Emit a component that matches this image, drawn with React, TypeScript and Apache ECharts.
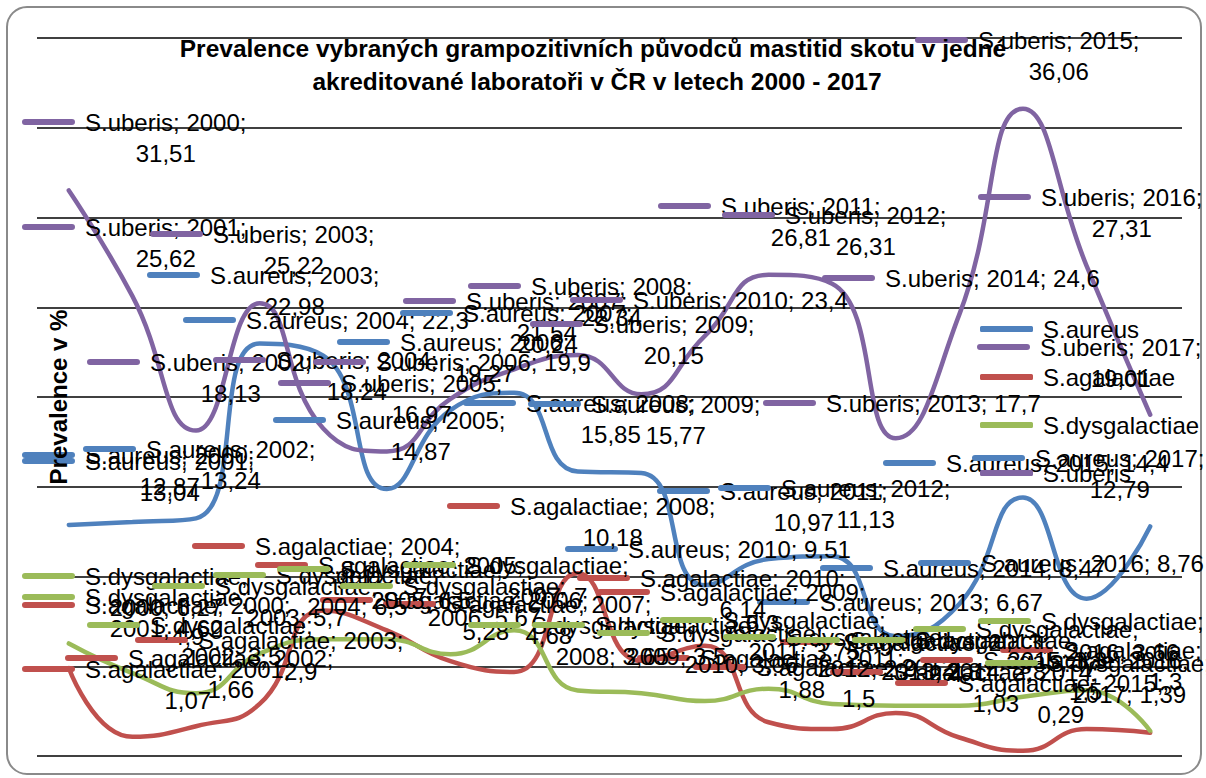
import React, { useEffect, useRef } from 'react';
import * as echarts from 'echarts';

// ---------- data ----------
const years = ['2000', '2001', '2002', '2003', '2004', '2005', '2006', '2007', '2008', '2009', '2010', '2011', '2012', '2013', '2014', '2015', '2016', '2017'];
const seriesNames = ['S.aureus', 'S.uberis', 'S.agalactiae', 'S.dysgalactiae'];
const legendOrder = ['S.aureus', 'S.agalactiae', 'S.dysgalactiae', 'S.uberis'];

const aureus = [12.87, 13.04, 13.24, 22.98, 22.3, 14.87, 19.27, 20.24, 15.85, 15.77, 9.51, 10.97, 11.13, 6.67, 8.47, 14.4, 8.76, 12.79];
const uberis = [31.51, 25.62, 18.13, 25.22, 18.24, 16.97, 19.9, 21.54, 22.34, 20.15, 23.4, 26.81, 26.31, 17.7, 24.6, 36.06, 27.31, 19.01];
const agalactiae = [4.9, 1.07, 1.66, 2.9, 8.1, 7.0, 5.28, 4.68, 10.18, 5.3, 6.14, 1.88, 1.5, 2.4, 1.03, 0.29, 1.5, 1.3];
const dysgalactiae = [6.27, 4.62, 3.5, 5.7, 6.5, 6.5, 5.67, 7.0, 3.65, 3.5, 3.06, 3.75, 2.9, 2.8, 2.8, 3.3, 3.66, 1.39];

const yMin = 0;
const yMax = 40;
const yInterval = 5;

const titleLines = ['Prevalence vybraných grampozitivních původců mastitid skotu v jedné', 'akreditované laboratoři v ČR v letech 2000 - 2017'];
const yAxisTitle = 'Prevalence v %';

// ---------- layout (label placement: [key left x, first text line centre y] in page px) ----------
const aureusLabelAt = [[22, 455], [22, 461], [83, 449], [147, 275], [183, 320], [273, 420], [337, 342], [400, 313], [463, 403], [528, 404], [565, 549], [657, 491], [718, 488], [757, 602], [820, 568], [883, 463], [918, 563], [972, 458]];
const uberisLabelAt = [[22, 122], [22, 227], [87, 362], [150, 234], [213, 360], [278, 383], [313, 362], [403, 301], [468, 286], [530, 324], [570, 300], [658, 206], [722, 215], [763, 403], [822, 278], [915, 40], [978, 197], [977, 347]];
const agalactiaeLabelAt = [[22, 605], [22, 669], [65, 658], [135, 640], [192, 546], [255, 565], [320, 600], [383, 604], [447, 506], [597, 592], [577, 578], [637, 658], [693, 667], [780, 642], [830, 672], [895, 683], [920, 660], [1000, 650]];
const dysgalactiaeLabelAt = [[22, 576], [22, 597], [87, 625], [152, 586], [213, 575], [277, 569], [340, 586], [403, 565], [468, 625], [532, 625], [597, 633], [660, 620], [723, 637], [787, 640], [852, 640], [913, 629], [978, 621], [985, 663]];

const COLORS: Record<string, string> = {
  'S.aureus': '#4F81BD',
  'S.uberis': '#8064A2',
  'S.agalactiae': '#C0504D',
  'S.dysgalactiae': '#9BBB59',
};

const FONT = '"Liberation Sans", Arial, sans-serif';
const FS = 24;
const LH = 31;
const KEY_W = 53;
const GAP = 10;

const fmt = (v: number) => String(v).replace('.', ',');

function labelLines(name: string, year: string, v: number): string[] {
  const full = `${name}; ${year}; ${fmt(v)}`;
  if (full.length <= 20) return [full];
  const a = `${name}; ${year};`;
  if (a.length <= 19) return [a, fmt(v)];
  return [`${name};`, `${year}; ${fmt(v)}`];
}

export default function App() {
  const ref = useRef<HTMLDivElement>(null);

  useEffect(() => {
    const chart = echarts.init(ref.current!, null, { renderer: 'svg' });
    const canvas = document.createElement('canvas');
    const ctx = canvas.getContext('2d')!;
    ctx.font = `${FS}px ${FONT}`;
    const measure = (s: string) => ctx.measureText(s).width;

    const valuesByName: Record<string, number[]> = {
      'S.aureus': aureus,
      'S.uberis': uberis,
      'S.agalactiae': agalactiae,
      'S.dysgalactiae': dysgalactiae,
    };
    const labelAtByName: Record<string, number[][]> = {
      'S.aureus': aureusLabelAt,
      'S.uberis': uberisLabelAt,
      'S.agalactiae': agalactiaeLabelAt,
      'S.dysgalactiae': dysgalactiaeLabelAt,
    };

    const buildSeries = (withLabels: boolean) =>
      seriesNames.map((name) => {
        const vals = valuesByName[name];
        const color = COLORS[name];
        return {
          name,
          type: 'line',
          smooth: 0.5,
          symbol: 'circle',
          symbolSize: 1,
          showSymbol: true,
          lineStyle: { width: 4.5, color, cap: 'round' },
          itemStyle: { color },
          emphasis: { disabled: true },
          data: vals.map((v, j) => {
            if (!withLabels) return v;
            const lines = labelLines(name, years[j], v);
            const [kx, ky] = labelAtByName[name][j];
            const [px, py] = chart.convertToPixel({ xAxisIndex: 0, yAxisIndex: 0 }, [j, v]) as number[];
            let formatter = `{k|}{t|${lines[0]}}`;
            let spacer = 1;
            if (lines.length > 1) {
              spacer = Math.max(1, KEY_W + GAP + (measure(lines[0]) - measure(lines[1])) / 2);
              formatter += `\n{s|}{v|${lines[1]}}`;
            }
            return {
              value: v,
              label: {
                show: true,
                position: 'inside',
                align: 'left',
                verticalAlign: 'top',
                offset: [kx - px, ky - LH / 2 - py],
                formatter,
                rich: {
                  k: { width: KEY_W, height: 6, backgroundColor: color, borderRadius: 3, verticalAlign: 'middle' },
                  t: { fontSize: FS, fontFamily: FONT, color: '#000', lineHeight: LH, padding: [0, 0, 0, GAP] },
                  s: { width: spacer, height: 1 },
                  v: { fontSize: FS, fontFamily: FONT, color: '#000', lineHeight: LH },
                },
              },
            };
          }),
        };
      });

    const baseOption = (withLabels: boolean) => ({
      animation: false,
      backgroundColor: '#fff',
      grid: { left: 37, right: 24, top: 38, bottom: 22, containLabel: false },
      xAxis: {
        type: 'category',
        data: years,
        boundaryGap: true,
        axisLine: { show: false },
        axisTick: { show: false },
        axisLabel: { show: false },
        splitLine: { show: false },
      },
      yAxis: {
        type: 'value',
        min: yMin,
        max: yMax,
        interval: yInterval,
        axisLine: { show: false },
        axisTick: { show: false },
        axisLabel: { show: false },
        splitLine: { show: true, lineStyle: { color: '#000', width: 1.6 } },
      },
      legend: {
        data: legendOrder,
        orient: 'vertical',
        left: 975,
        top: 310,
        icon: 'roundRect',
        itemWidth: 53,
        itemHeight: 6,
        itemGap: 20,
        selectedMode: false,
        textStyle: { fontSize: FS, fontFamily: FONT, color: '#000', lineHeight: 28, padding: [0, 0, 0, 5] },
      },
      graphic: [
        {
          type: 'rect',
          shape: { x: 7, y: 7, width: 1194, height: 767, r: 20 },
          style: { fill: 'none', stroke: '#8a8a8a', lineWidth: 2 },
          silent: true,
          z: -10,
        },
        {
          type: 'text',
          x: 593,
          y: 48,
          style: { text: titleLines[0], font: `bold 24.5px ${FONT}`, fill: '#000', align: 'center', verticalAlign: 'middle' },
          z: 5,
        },
        {
          type: 'text',
          x: 597,
          y: 81,
          style: { text: titleLines[1], font: `bold 24.5px ${FONT}`, fill: '#000', align: 'center', verticalAlign: 'middle' },
          z: 5,
        },
        {
          type: 'text',
          x: 58,
          y: 397,
          rotation: Math.PI / 2,
          style: { text: yAxisTitle, font: `bold 24px ${FONT}`, fill: '#000', align: 'center', verticalAlign: 'middle' },
          z: 5,
        },
      ],
      series: buildSeries(withLabels),
    });

    chart.setOption(baseOption(false));
    chart.setOption(baseOption(true), { notMerge: true });

    return () => chart.dispose();
  }, []);

  return <div ref={ref} style={{ position: 'absolute', left: 0, top: 0, width: 1206, height: 778 }} />;
}
